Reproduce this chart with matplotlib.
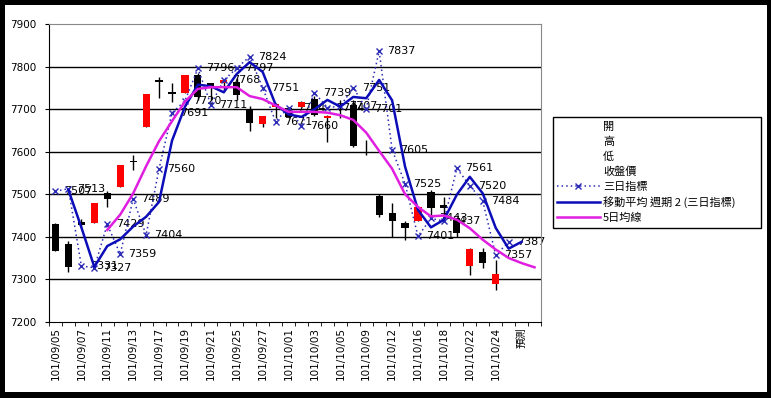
import matplotlib
matplotlib.use('Agg')
import matplotlib.pyplot as plt
from matplotlib.lines import Line2D
from matplotlib.patches import Rectangle

plt.rcParams['font.family'] = ['DejaVu Sans', 'Noto Sans CJK TC']

# categories (trading days), every other one is labelled on the axis
dates = ['101/09/05', '101/09/06', '101/09/07', '101/09/10', '101/09/11', '101/09/12',
         '101/09/13', '101/09/14', '101/09/17', '101/09/18', '101/09/19', '101/09/20',
         '101/09/21', '101/09/24', '101/09/25', '101/09/26', '101/09/27', '101/09/28',
         '101/10/01', '101/10/02', '101/10/03', '101/10/04', '101/10/05', '101/10/08',
         '101/10/09', '101/10/11', '101/10/12', '101/10/15', '101/10/16', '101/10/17',
         '101/10/18', '101/10/19', '101/10/22', '101/10/23', '101/10/24', '101/10/25',
         '預測', '']

# candles
opens  = [7430, 7383, 7434, 7433, 7502, 7518, 7578, 7659, 7769, 7741, 7739, 7781,
          7761, 7761, 7765, 7698, 7665, 7706, 7702, 7706, 7725, 7679, 7701, 7711,
          7592, 7496, 7455, 7433, 7436, 7506, 7475, 7445, 7331, 7365, 7288]
highs  = [7432, 7390, 7442, 7480, 7508, 7569, 7592, 7737, 7777, 7761, 7781, 7785,
          7763, 7772, 7773, 7708, 7683, 7714, 7705, 7720, 7731, 7687, 7722, 7722,
          7628, 7501, 7479, 7436, 7471, 7510, 7494, 7445, 7373, 7373, 7345]
lows   = [7366, 7316, 7424, 7433, 7469, 7518, 7557, 7659, 7726, 7718, 7739, 7722,
          7722, 7745, 7722, 7650, 7659, 7680, 7679, 7706, 7684, 7624, 7679, 7612,
          7592, 7447, 7399, 7392, 7436, 7451, 7440, 7400, 7309, 7326, 7275]
closes = [7367, 7328, 7428, 7480, 7488, 7569, 7575, 7737, 7764, 7735, 7781, 7730,
          7752, 7769, 7734, 7668, 7683, 7712, 7681, 7718, 7687, 7683, 7700, 7613,
          7592, 7451, 7438, 7420, 7471, 7467, 7467, 7408, 7372, 7339, 7312]

# 三日指標
three_day = [7507, 7513, 7331, 7327, 7429, 7359, 7489, 7404, 7560, 7691, 7720, 7796,
             7711, 7768, 7797, 7824, 7751, 7671, 7704, 7660, 7739, 7704, 7707, 7751,
             7701, 7837, 7605, 7525, 7401, 7443, 7437, 7561, 7520, 7484, 7357, 7387]

# 移動平均 週期 2 (三日指標), starts at the 2nd category
ma2 = [7510, 7422, 7329, 7378, 7394, 7424, 7447, 7482, 7626, 7706, 7758, 7754,
       7740, 7783, 7811, 7788, 7711, 7688, 7682, 7700, 7722, 7706, 7729, 7726,
       7769, 7721, 7565, 7463, 7422, 7440, 7499, 7541, 7502, 7421, 7372, 7388]

# 5日均線, starts at the 5th category
ma5 = [7416, 7452, 7502, 7566, 7625, 7672, 7718, 7748, 7752, 7752, 7752, 7731,
       7724, 7709, 7694, 7694, 7694, 7692, 7686, 7675, 7645, 7602, 7560, 7500,
       7470, 7448, 7450, 7440, 7420, 7393, 7370, 7350, 7338, 7328]

fig = plt.figure(figsize=(7.71, 3.98), dpi=100, facecolor='black')
fig.patches.append(Rectangle((5/771, 1-392/398), 762/771, 387/398,
                             transform=fig.transFigure, facecolor='white',
                             edgecolor='none', zorder=-10))
ax = fig.add_axes([49/771, 1-321.7/398, 492/771, 297.4/398])
ax.set_zorder(1)

xc = list(range(len(opens)))
for i in xc:
    ax.vlines(i, lows[i], highs[i], color='black', lw=1, zorder=3)
body_bottom = [min(o, c) for o, c in zip(opens, closes)]
body_height = [max(abs(c - o), 1.5) for o, c in zip(opens, closes)]
body_color = ['red' if c > o else 'black' for o, c in zip(opens, closes)]
ax.bar(xc, body_height, bottom=body_bottom, width=0.55, color=body_color, zorder=4)

x3 = list(range(len(three_day)))
ax.plot(x3, three_day, linestyle=(0, (1, 2)), color='#2b2bb5', lw=1.1, marker='x',
        markersize=5, markeredgewidth=1, zorder=5)
for x, v in zip(x3, three_day):
    ax.annotate(str(v), (x, v), xytext=(6, 0), textcoords='offset points',
                ha='left', va='center', fontsize=8, zorder=2)

ax.plot(range(1, 1 + len(ma2)), ma2, color='#0c0cb8', lw=1.8, zorder=6)
ax.plot(range(4, 4 + len(ma5)), ma5, color='#e01ee0', lw=1.8, zorder=6)

ax.set_xlim(-0.5, len(dates) - 0.5)
ax.set_ylim(7200, 7900)
ax.set_yticks(range(7200, 8000, 100))
ax.set_yticklabels([str(v) for v in range(7200, 8000, 100)], fontsize=7.5)
for v in range(7300, 7900, 100):
    ax.axhline(v, color='black', lw=1, zorder=1)

ax.set_xticks(range(0, len(dates), 2))
ax.set_xticklabels(dates[::2], rotation=90, fontsize=7.5, va='top', ha='center',
                   family=['DejaVu Sans', 'Noto Sans CJK TC'])
ax.set_xticks([i - 0.5 for i in range(len(dates) + 1)], minor=True)
ax.tick_params(axis='x', which='major', length=0, pad=4)
ax.tick_params(axis='x', which='minor', length=3, direction='out')
ax.tick_params(axis='y', length=3, direction='out', pad=6)

for s in ['top', 'right']:
    ax.spines[s].set_color('#888888')
for s in ['left', 'bottom']:
    ax.spines[s].set_color('black')

handles = [Line2D([], [], linestyle='none') for _ in range(4)]
handles.append(Line2D([], [], linestyle=(0, (1, 2)), color='#2b2bb5', marker='x',
                      markersize=5, lw=1.1))
handles.append(Line2D([], [], color='#0c0cb8', lw=1.8))
handles.append(Line2D([], [], color='#e01ee0', lw=1.8))
labels = ['開', '高', '低', '收盤價', '三日指標', '移動平均 週期 2 (三日指標)', '5日均線']
leg = fig.legend(handles, labels, loc='upper left',
                 bbox_to_anchor=(552.7/771, 1-117.3/398, 208/771, 0.0),
                 mode='expand', frameon=True, fancybox=False, framealpha=1,
                 edgecolor='black', handlelength=3.8, handletextpad=0.3,
                 labelspacing=0.42, borderpad=0.42, borderaxespad=0,
                 prop={'family': ['Noto Sans CJK TC', 'DejaVu Sans'], 'size': 8})
leg.get_frame().set_linewidth(1)

fig.savefig('out.png', dpi=100, facecolor='black')
